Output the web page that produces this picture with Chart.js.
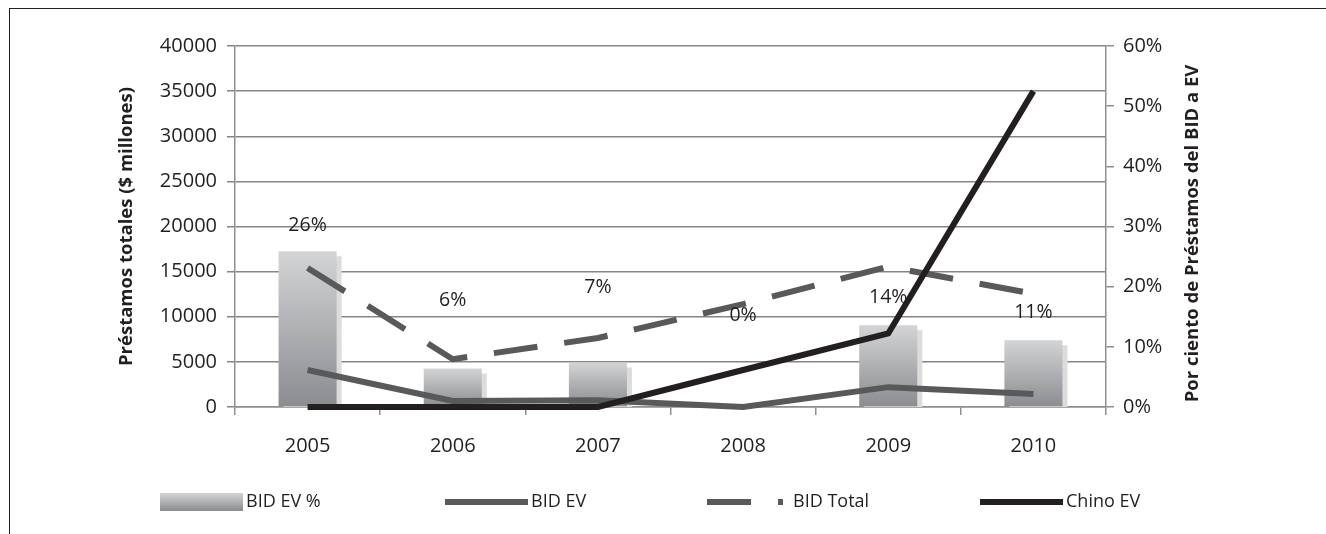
<!DOCTYPE html>
<html>
<head>
<meta charset="utf-8">
<script src="https://cdn.jsdelivr.net/npm/chart.js@4.4.0/dist/chart.umd.min.js"></script>
<style>
    html, body { margin: 0; padding: 0; background: #fff; }
    #wrap { position: relative; width: 1326px; height: 534px; overflow: hidden; }
    #frame { position: absolute; left: 9px; top: 8px; right: -2px; bottom: -2px; border-top: 1.5px solid #231f20; border-left: 1.5px solid #231f20; pointer-events: none; }
    canvas { position: absolute; left: 0; top: 0; }
</style>
</head>
<body>
<div id="wrap">
    <canvas id="chart" width="1326" height="534"></canvas>
    <div id="frame"></div>
</div>
<script>
// Datos
const years = ['2005', '2006', '2007', '2008', '2009', '2010'];
const bidEvPct = [0.259, 0.064, 0.074, 0, 0.136, 0.111];
const bidEv = [4100, 660, 760, 0, 2200, 1450];
const bidTotal = [15400, 5300, 7650, 11400, 15550, 12550];
const chinoEv = [0, 0, 0, 4100, 8150, 35000];
const leftTicks = [0, 5000, 10000, 15000, 20000, 25000, 30000, 35000, 40000];
const rightTicks = [0, 0.1, 0.2, 0.3, 0.4, 0.5, 0.6];
const rightTitle = 'Por ciento de Préstamos del BID a EV';

// Estilo
const labelLift = [26, 68, 75, 92, 28, 28];
const legendX = [160, 445, 707, 980];
const legendY = 502;
const gridGray = '#858585';
const axisGray = '#8f8f8f';
const ink = '#231f20';

Chart.defaults.font.family = "'Open Sans', sans-serif";
Chart.defaults.color = ink;

function barGradient(ctx, top, bottom) {
    const g = ctx.createLinearGradient(0, top, 0, bottom);
    g.addColorStop(0, '#d3d4d6');
    g.addColorStop(1, '#8b8c8f');
    return g;
}

// Sombra de las barras
const barShadow = {
    id: 'barShadow',
    beforeDatasetDraw(chart, args) {
        if (args.index !== 0) return;
        const ctx = chart.ctx;
        ctx.save();
        ctx.shadowColor = '#dcdcdc';
        ctx.shadowOffsetX = 5;
        ctx.shadowOffsetY = 5;
        ctx.shadowBlur = 0;
    },
    afterDatasetDraw(chart, args) {
        if (args.index !== 0) return;
        chart.ctx.restore();
    }
};

// Etiquetas de porcentaje
const pctLabels = {
    id: 'pctLabels',
    afterDatasetsDraw(chart) {
        const ctx = chart.ctx;
        const meta = chart.getDatasetMeta(0);
        ctx.save();
        ctx.font = "19.5px 'Open Sans', sans-serif";
        ctx.fillStyle = ink;
        ctx.textAlign = 'center';
        ctx.textBaseline = 'middle';
        meta.data.forEach((bar, i) => {
            ctx.fillText(Math.round(bidEvPct[i] * 100) + '%', bar.x, bar.y - labelLift[i]);
        });
        ctx.restore();
    }
};

// Título del eje derecho (se lee de abajo hacia arriba)
const rightAxisTitle = {
    id: 'rightAxisTitle',
    afterDraw(chart) {
        const ctx = chart.ctx;
        const area = chart.chartArea;
        ctx.save();
        ctx.translate(1193, (area.top + area.bottom) / 2 + 7);
        ctx.rotate(-Math.PI / 2);
        ctx.font = "bold 18.5px 'Open Sans', sans-serif";
        ctx.fillStyle = ink;
        ctx.textAlign = 'center';
        ctx.textBaseline = 'middle';
        ctx.fillText(rightTitle, 0, 0);
        ctx.restore();
    }
};

// Leyenda propia
const customLegend = {
    id: 'customLegend',
    afterDraw(chart) {
        const ctx = chart.ctx;
        const w = 83;
        ctx.save();
        ctx.font = "18px 'Open Sans', sans-serif";
        ctx.textBaseline = 'middle';
        chart.data.datasets.forEach((ds, i) => {
            const x = legendX[i];
            if (ds.type === 'bar') {
                ctx.fillStyle = barGradient(ctx, legendY - 9, legendY + 9);
                ctx.fillRect(x, legendY - 9, w, 18);
            } else {
                const len = ds.borderDash ? w - 7 : w;
                ctx.beginPath();
                ctx.setLineDash(ds.borderDash || []);
                ctx.lineWidth = ds.borderWidth;
                ctx.strokeStyle = ds.borderColor;
                ctx.lineCap = 'butt';
                ctx.moveTo(x, legendY);
                ctx.lineTo(x + len, legendY);
                ctx.stroke();
                ctx.setLineDash([]);
            }
            ctx.fillStyle = ink;
            ctx.fillText(ds.label, x + w + 3, legendY);
        });
        ctx.restore();
    }
};

const ctx = document.getElementById('chart').getContext('2d');
const chart = new Chart(ctx, {
    data: {
        labels: years,
        datasets: [
            {
                type: 'bar',
                label: 'BID EV %',
                data: bidEvPct,
                yAxisID: 'y2',
                order: 4,
                clip: 0,
                barPercentage: 0.4,
                categoryPercentage: 1,
                backgroundColor: (c) => {
                    const ch = c.chart;
                    if (!ch.chartArea || c.raw === undefined) return '#aaaaac';
                    const top = ch.scales.y2.getPixelForValue(c.raw);
                    return barGradient(ch.ctx, top, ch.chartArea.bottom);
                }
            },
            {
                type: 'line',
                label: 'BID EV',
                data: bidEv,
                yAxisID: 'y',
                order: 3,
                clip: 8,
                borderColor: '#58595b',
                borderWidth: 6,
                pointRadius: 0,
                tension: 0
            },
            {
                type: 'line',
                label: 'BID Total',
                data: bidTotal,
                yAxisID: 'y',
                order: 2,
                clip: 8,
                borderColor: '#58595b',
                borderWidth: 6,
                borderDash: [44, 27],
                borderCapStyle: 'butt',
                pointRadius: 0,
                tension: 0
            },
            {
                type: 'line',
                label: 'Chino EV',
                data: chinoEv,
                yAxisID: 'y',
                order: 1,
                clip: 8,
                borderColor: '#231f20',
                borderWidth: 6,
                pointRadius: 0,
                tension: 0
            }
        ]
    },
    options: {
        responsive: false,
        animation: false,
        devicePixelRatio: 1,
        layout: { padding: { top: 46, left: 0, right: 0, bottom: 0 } },
        plugins: {
            legend: { display: false },
            tooltip: { enabled: false }
        },
        scales: {
            x: {
                grid: { drawOnChartArea: false, offset: true, tickLength: 8, color: axisGray, lineWidth: 1.5 },
                border: { color: axisGray, width: 1.5 },
                ticks: { font: { size: 20 }, color: ink, padding: 19 },
                afterFit: (s) => { s.height = 127; }
            },
            y: {
                position: 'left',
                min: 0,
                max: 40000,
                afterBuildTicks: (s) => { s.ticks = leftTicks.map(v => ({ value: v })); },
                grid: { color: gridGray, lineWidth: 1.5, tickLength: 8 },
                border: { color: axisGray, width: 1.5 },
                ticks: { font: { size: 20 }, color: ink, padding: 10, callback: (v) => String(v) },
                title: {
                    display: true,
                    text: 'Préstamos totales ($ millones)',
                    font: { size: 18.5, weight: 'bold' },
                    color: ink,
                    padding: { top: 116, bottom: 0 }
                },
                afterFit: (s) => { s.width = 235; }
            },
            y2: {
                position: 'right',
                min: 0,
                max: 0.6,
                afterBuildTicks: (s) => { s.ticks = rightTicks.map(v => ({ value: v })); },
                grid: { drawOnChartArea: false, color: axisGray, lineWidth: 1.5, tickLength: 8 },
                border: { color: axisGray, width: 1.5 },
                ticks: {
                    font: { size: 20 },
                    color: ink,
                    padding: 9,
                    callback: (v) => Math.round(v * 100) + '%'
                },
                afterFit: (s) => { s.width = 220; }
            }
        }
    },
    plugins: [barShadow, pctLabels, rightAxisTitle, customLegend]
});
</script>
</body>
</html>
